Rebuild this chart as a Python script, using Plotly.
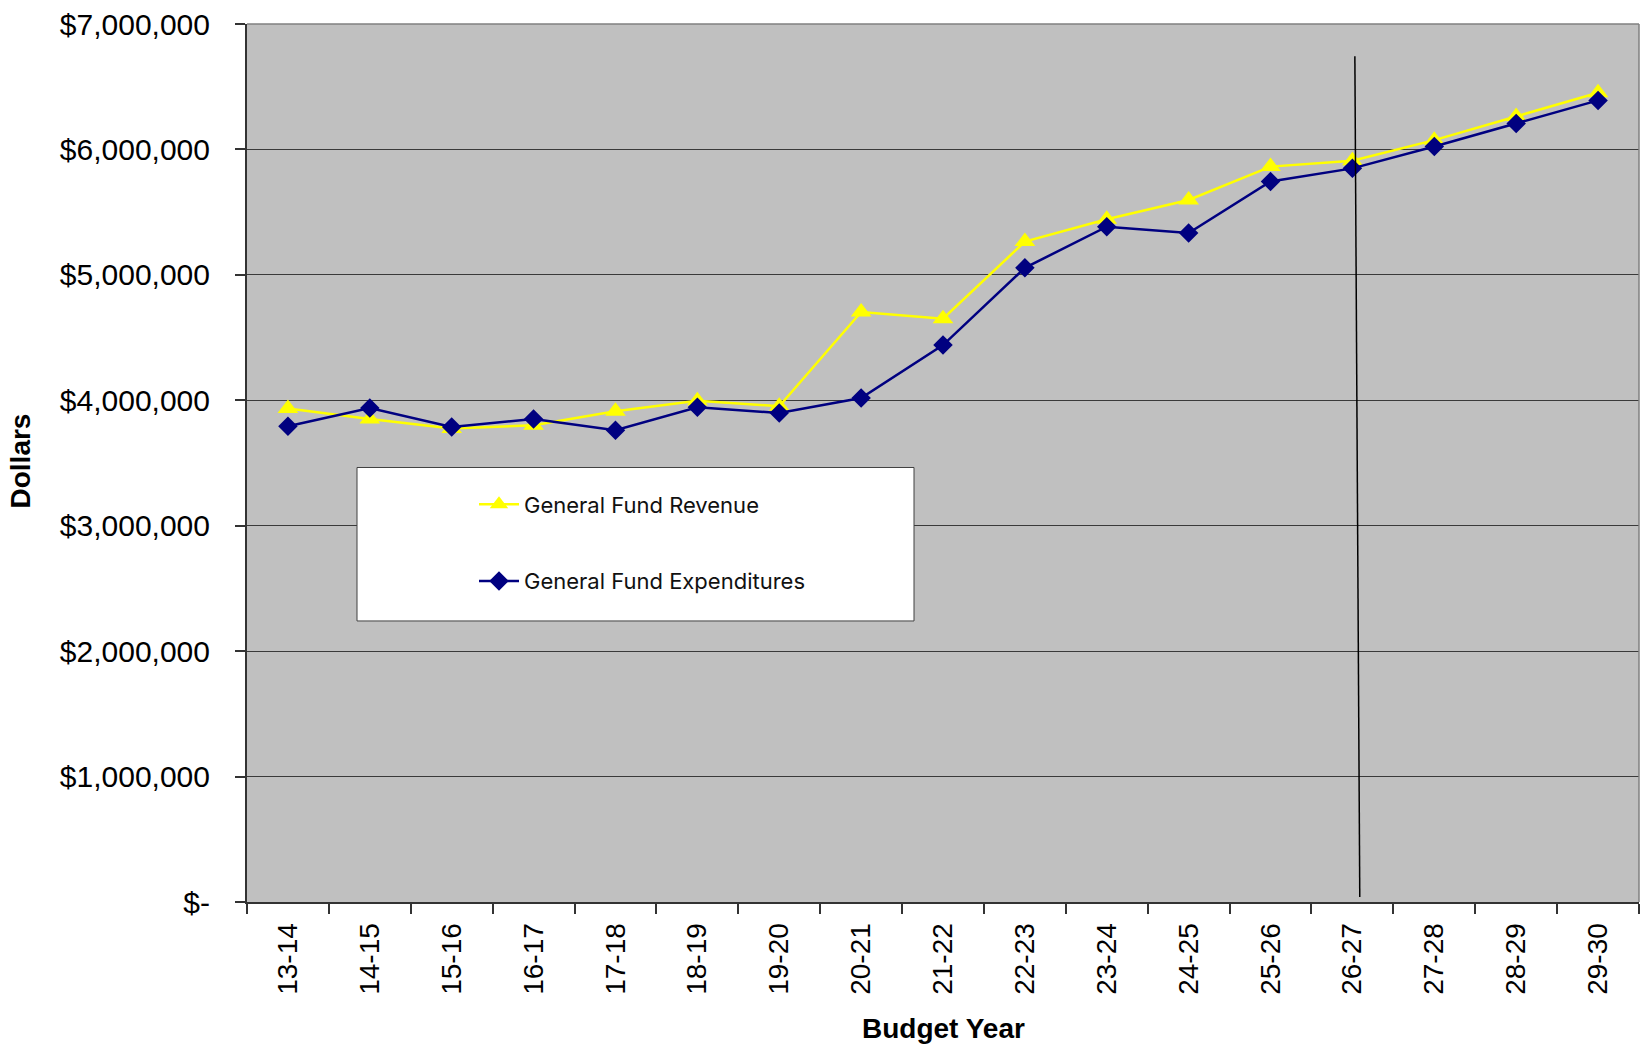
import plotly.graph_objects as go

# Budget years on the category axis
budget_years = ["13-14", "14-15", "15-16", "16-17", "17-18", "18-19", "19-20",
                "20-21", "21-22", "22-23", "23-24", "24-25", "25-26", "26-27",
                "27-28", "28-29", "29-30"]

# General fund totals, dollars
revenue = [3934000, 3851000, 3775000, 3801000, 3913000, 3997000, 3952000,
           4704000, 4651000, 5265000, 5444000, 5597000, 5863000, 5910000,
           6074000, 6262000, 6452000]
expenditures = [3793000, 3939000, 3788000, 3851000, 3761000, 3944000, 3899000,
                4018000, 4440000, 5056000, 5384000, 5333000, 5744000, 5849000,
                6024000, 6206000, 6391000]

# Dollar axis ticks
y_tickvals = [0, 1000000, 2000000, 3000000, 4000000, 5000000, 6000000, 7000000]
y_ticktext = ["$-", "$1,000,000", "$2,000,000", "$3,000,000", "$4,000,000",
              "$5,000,000", "$6,000,000", "$7,000,000"]

# Divider between actual and projected years: year, offsets within the
# category (fraction of its width) at top and bottom, and dollar extent
divider_year = "26-27"
divider_shift = [0.03, 0.09]
divider_y = [6743000, 40000]

AXIS_FONT = dict(family="Liberation Sans, Arial, sans-serif", size=28, color="black")
YTICK_FONT = dict(family="Liberation Sans, Arial, sans-serif", size=30, color="black")
TITLE_FONT = dict(family="Liberation Sans, Arial, sans-serif", size=28, color="black")
LEGEND_FONT = dict(family="Inter, Liberation Sans, sans-serif", size=22, color="#111111")

# Plot area in pixels
PL, PR, PT, PB = 247, 1639, 21, 902
PW, PH = PR - PL, PB - PT


def px_x(x):
    return (x - PL) / PW


def px_y(y):
    return (PB - y) / PH


fig = go.Figure()

fig.add_trace(go.Scatter(
    x=budget_years, y=revenue, name="General Fund Revenue",
    mode="lines+markers",
    line=dict(color="#FFFF00", width=2.5),
    marker=dict(symbol="triangle-up", size=18, color="#FFFF00"),
    legend="legend",
))
fig.add_trace(go.Scatter(
    x=budget_years, y=expenditures, name="General Fund Expenditures",
    mode="lines+markers",
    line=dict(color="#000080", width=2.5),
    marker=dict(symbol="diamond", size=15, color="#000080"),
    legend="legend2",
))

# Legend frame
fig.add_shape(type="rect", xref="paper", yref="paper",
              x0=px_x(357), x1=px_x(914), y0=px_y(620), y1=px_y(466),
              fillcolor="white", line=dict(color="#404040", width=1), layer="above")

# Vertical divider line
fig.add_shape(type="line", xref="x", yref="y",
              x0=divider_year, x1=divider_year,
              x0shift=divider_shift[0], x1shift=divider_shift[1],
              y0=divider_y[0], y1=divider_y[1],
              line=dict(color="black", width=1.5))

legend_common = dict(bgcolor="rgba(0,0,0,0)", borderwidth=0, font=LEGEND_FONT,
                     xanchor="left", yanchor="middle", itemwidth=40,
                     x=px_x(474))
fig.update_layout(
    legend=dict(y=px_y(503), **legend_common),
    legend2=dict(y=px_y(580), **legend_common),
)

fig.update_layout(
    width=1646, height=1047,
    margin=dict(l=PL, r=1646 - PR, t=PT, b=1047 - PB),
    paper_bgcolor="white",
    plot_bgcolor="#C0C0C0",
    showlegend=True,
    xaxis=dict(
        type="category",
        tickson="boundaries",
        ticks="outside", ticklen=10, tickcolor="#333333", tickwidth=1.5,
        tickangle=-90,
        tickfont=AXIS_FONT,
        ticklabelstandoff=8,
        showgrid=False,
        showline=True, linecolor="#333333", linewidth=2,
        range=[-0.5, 16.5],
    ),
    yaxis=dict(
        range=[0, 7000000],
        tickvals=y_tickvals, ticktext=y_ticktext,
        ticks="outside", ticklen=10, tickcolor="#333333", tickwidth=1.5,
        tickfont=YTICK_FONT,
        ticklabelstandoff=19,
        showgrid=True, gridcolor="#3a3a3a", gridwidth=1,
        showline=True, linecolor="#333333", linewidth=2,
        zeroline=False,
    ),
)

# Plot area right/top edges
fig.add_shape(type="line", xref="paper", yref="paper", x0=1, x1=1, y0=0, y1=1,
              line=dict(color="#808080", width=1.5))
fig.add_shape(type="line", xref="paper", yref="paper", x0=0, x1=1, y0=1, y1=1,
              line=dict(color="#808080", width=1.5))

# Axis titles
fig.add_annotation(text="<b>Dollars</b>", xref="paper", yref="paper",
                   x=px_x(21), y=px_y(460), xanchor="center", yanchor="middle",
                   textangle=-90, showarrow=False, font=TITLE_FONT)
fig.add_annotation(text="<b>Budget Year</b>", xref="paper", yref="paper",
                   x=px_x(943), y=px_y(1029), xanchor="center", yanchor="middle",
                   showarrow=False, font=TITLE_FONT)

fig.write_html("out.html")
